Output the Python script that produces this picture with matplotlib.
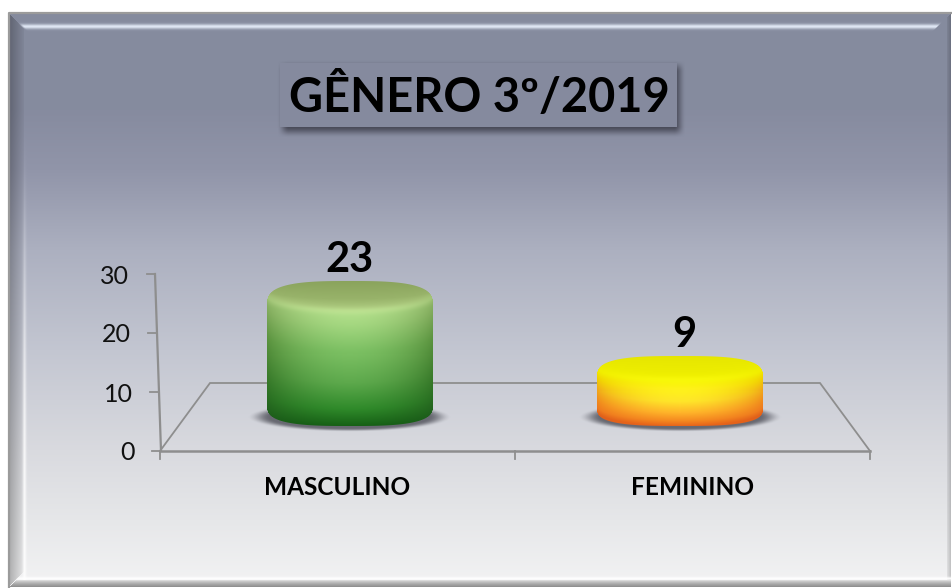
import numpy as np
import matplotlib
matplotlib.use("Agg")
import matplotlib.pyplot as plt
from matplotlib.colors import to_rgb
from matplotlib.patches import Rectangle
from matplotlib.transforms import ScaledTranslation

categories = ["MASCULINO", "FEMININO"]
values = [23, 9]
y_ticks = [0, 10, 20, 30]
title = "GÊNERO 3º/2019"

W, H = 952, 588
plt.rcParams['font.family'] = ['Lato', 'DejaVu Sans']
fig = plt.figure(figsize=(W / 100, H / 100), dpi=100, facecolor="white")


def px_axes(x0, y0, x1, y1, **kw):
    """Axes placed by pixel box, y measured from the top of the image."""
    return fig.add_axes([x0 / W, 1 - y1 / H, (x1 - x0) / W, (y1 - y0) / H], **kw)


def ramp(pos, stops, cols):
    arr = np.array([to_rgb(c) for c in cols])
    return np.stack([np.interp(pos, stops, arr[:, i]) for i in range(3)], axis=-1)


def smooth(e0, e1, x):
    t = np.clip((x - e0) / (e1 - e0), 0, 1)
    return t * t * (3 - 2 * t)


def blend(base, colour, amount):
    return base * (1 - amount[..., None]) + np.array(to_rgb(colour)) * amount[..., None]


# ---------- background panel ----------
bg = px_axes(0, 0, W, H, zorder=0)
FX0, FY0, FX1, FY1 = 9, 13, 951, 587
yy, xx = np.mgrid[FY0:FY1, FX0:FX1] + 0.5
rx, ry, rr, rb = xx - FX0, yy - FY0, FX1 - xx, FY1 - yy
grad = ramp(yy, [13, 110, 170, 250, 350, 450, 520, 587],
            ["#858b9e", "#868b9f", "#9195a9", "#acb0c0", "#c3c6d1", "#d9dadf", "#e6e7e9", "#f3f3f4"])
# left bevel: darker band bounded by the corner diagonals
left = (rx < 15) & (rx < ry) & (rx < rb)
shade = 0.72 + 0.24 * np.clip(rx / 15, 0, 1)
grad[left] = grad[left] * shade[left][..., None]
# right bevel
right = (rr < 4) & (rr < ry) & (rr < rb)
shade_r = 0.80 + 0.14 * np.clip(rr / 4, 0, 1)
grad[right] = grad[right] * shade_r[right][..., None]
# inner white edge along the left side, growing stronger downwards
vhl = np.exp(-((rx - 15.5) / 1.8) ** 2) * smooth(120, 500, yy) * (rb > 7) * 0.75
grad = blend(grad, "#ffffff", vhl)
# top highlight
thl = np.exp(-((yy - 26.5) / 2.4) ** 2) * smooth(-2, 2, rx - ry) * smooth(-1, 1, rr - ry) * 0.9
grad = blend(grad, "#e8f0fd", thl)
# bottom band
bot = (rb < 7) & (rx > rb)
grad[bot] = ramp(yy[bot], [580, 584, 587], ["#d8d8d8", "#a8a8a8", "#8c8c8c"])
bhl = np.exp(-((yy - 578.5) / 1.6) ** 2) * smooth(-2, 2, rx - rb) * 0.9
grad = blend(grad, "#ffffff", bhl)
bg.imshow(grad, extent=[FX0, FX1, FY1, FY0], aspect="auto", interpolation="nearest", zorder=0)
bg.plot([FX0, FX0, FX1], [FY1, FY0, FY0], color="#9b9b9b", lw=1.6, zorder=1)

# title box with soft shadow
BX0, BY0, BX1, BY1 = 280, 63, 677, 127
sy, sx = np.mgrid[BY0 - 10:BY1 + 20, BX0 - 10:BX1 + 20] + 0.5
sa = (smooth(-6, 6, sx - (BX0 + 3)) * smooth(-6, 6, (BX1 + 3) - sx)
      * smooth(-6, 6, sy - (BY0 + 3)) * smooth(-6, 6, (BY1 + 5) - sy))
simg = np.zeros(sa.shape + (4,))
simg[..., :3] = to_rgb("#3c3d4a")
simg[..., 3] = sa * 0.85
bg.imshow(simg, extent=[BX0 - 10, BX1 + 20, BY1 + 20, BY0 - 10], aspect="auto",
          interpolation="nearest", zorder=2)
bg.add_patch(Rectangle((BX0, BY0), BX1 - BX0, BY1 - BY0, fc="#858a9e", ec="none", zorder=3))
bg.text(479, 97, title, fontsize=33.8, fontweight="bold", color="black",
        ha="center", va="center", zorder=4)

# floor
line = "#8e8e8e"
bg.plot([160, 210, 820, 870], [451, 383, 383, 451], color=line, lw=1.3, zorder=5,
        solid_joinstyle="miter")
bg.plot([160, 870], [451, 451], color=line, lw=1.8, zorder=5)
bg.set_xlim(0, W)
bg.set_ylim(H, 0)
bg.axis("off")

# ---------- value axes (ticks, labels) ----------
AX0, AX1, AY30, AY0 = 160, 870, 274, 451
ax = px_axes(AX0, AY30, AX1, AY0, zorder=2)
ax.patch.set_alpha(0)
ax.set_xlim(-0.5, 1.5)
ax.set_ylim(0, 30)
for s in ax.spines.values():
    s.set_visible(False)
ax.set_yticks(y_ticks)
ax.set_xticks(range(len(categories)))
ax.set_xticklabels(categories, fontsize=17.6, fontweight="bold", color="black")
ax.tick_params(axis="y", length=0, pad=18.7, labelsize=18, labelcolor="#111111")
ax.tick_params(axis="x", length=0, pad=18.2)

TOP = max(y_ticks)
to_x = lambda px: (px - AX0) / (AX1 - AX0) * 2 - 0.5
lean = lambda v: AX0 + 1 - 6 * v / TOP

for v, lab in zip(y_ticks, ax.get_yticklabels()):
    shift = (lean(v) - AX0) / 100
    lab.set_transform(lab.get_transform() + ScaledTranslation(shift, 0, fig.dpi_scale_trans))

# slanted y axis with its tick marks, following the value scale
ax.plot([to_x(lean(0)), to_x(lean(TOP))], [0, TOP], color=line, lw=1.6, clip_on=False)
for v in y_ticks:
    ax.plot([to_x(lean(v) - 8.5), to_x(lean(v))], [v, v], color=line, lw=1.3, clip_on=False)
for frac in (0, 0.5, 1):
    xt = -0.5 + 2 * frac
    ax.plot([xt, xt], [0, -1.3], color=line, lw=1.3, clip_on=False)

# ---------- cylinders: own projected scale ----------
# category 0 at px 349.5, category 1 at px 680; value v top at px 405 - 5.36 v
XS, YS = 330.5, 5.36
bx = px_axes(0, 0, W, H, zorder=3)
bx.patch.set_alpha(0)
HALF = 0.25
BASE = -21 / YS

styles = [
    dict(b=15, sil_top=24, sil_bot=21,
         face=["#8aa35c", "#98b36a", "#b2d084"],
         rim="#c2e696",
         ts=[0, .12, .35, .62, .85, 1],
         center=["#b4e08c", "#a4d780", "#7cc063", "#5da94c", "#2f8a2a", "#166015"],
         edge=["#8fb567", "#7fa95a", "#5b933f", "#3f7f2e", "#2a6f22", "#1f5f1c"],
         shadow="#5c5d66"),
    dict(b=12, sil_top=21, sil_bot=18,
         face=["#e6e600", "#ecec00", "#f2f200"],
         rim="#fbfb10",
         ts=[0, .2, .45, .7, .88, 1],
         center=["#f7f500", "#fff21a", "#ffe62a", "#ffb52a", "#f58a20", "#e8641a"],
         edge=["#f0e800", "#f0d000", "#f0a818", "#f08a1c", "#ee7a1e", "#e0601a"],
         shadow="#5c5d66"),
]

for i, (v, st) in enumerate(zip(values, styles)):
    # shadow on the floor, centred on the cylinder's base
    sw, sh = 0.30, 14.5 / YS
    scy = BASE + 8.5 / YS
    nx, ny = int(2 * sw * XS) + 8, int(2 * sh * YS) + 8
    u = np.linspace(-1.03, 1.03, nx)[None, :]
    w = np.linspace(1.3, -1.3, ny)[:, None]
    r = np.sqrt(u ** 2 + w ** 2)
    sim = np.zeros((ny, nx, 4))
    sim[..., :3] = to_rgb(st["shadow"])
    sim[..., 3] = (1 - smooth(0.8, 1.03, r)) * 0.9
    bx.imshow(sim, extent=[i - sw * 1.03, i + sw * 1.03, scy - sh * 1.3, scy + sh * 1.3],
              aspect="auto", interpolation="bilinear", zorder=1)

    # body shading on a pixel grid covering the bar from base to value
    npx = int(2 * HALF * XS)
    npy = int(round((v - BASE) * YS))
    u = (np.arange(npx) + 0.5) / npx * 2 - 1
    U, Yp = np.meshgrid(u, np.arange(npy) + 0.5)
    b = st["b"]
    bb = 15
    circ = np.sqrt(np.clip(1 - U ** 2, 0, 1))
    rim = b + b * circ
    front = np.clip((Yp - rim) / (npy - bb + bb * circ - rim), 0, 1)
    s = np.clip(1 - np.abs(U) ** 1.9, 0, 1) ** 0.9
    c_col = ramp(front, st["ts"], st["center"])
    e_col = ramp(front, st["ts"], st["edge"])
    side = e_col * (1 - s[..., None]) + c_col * s[..., None]
    fpos = np.clip(Yp / (b + b * circ), 0, 1)
    face = ramp(fpos, [0, .6, 1], st["face"])
    spread = 3 + 7 * (1 - circ)
    mix = smooth(-spread, spread, Yp - rim)[..., None]
    img = face * (1 - mix) + side * mix
    glow = np.exp(-((Yp - rim) / 3.5) ** 2) * circ ** 2.5 * 0.55
    img = blend(img, st["rim"], glow)
    # silhouette with rounded shoulders
    p = 3.0
    sq = (1 - np.abs(U) ** p) ** (1 / p)
    top = st["sil_top"] * (1 - sq)
    bot = npy - st["sil_bot"] * (1 - sq)
    alpha = np.clip(Yp - top + 0.5, 0, 1) * np.clip(bot - Yp + 0.5, 0, 1)
    bar_img = np.dstack([img, alpha])
    bx.imshow(bar_img, extent=[i - HALF, i + HALF, BASE, v], aspect="auto",
              interpolation="nearest", zorder=2)
    bx.annotate(str(v), xy=(i, v), xytext=(0 if i == 0 else 4, 22),
                textcoords="offset pixels", ha="center", va="center",
                fontsize=30, fontweight="bold", color="black", zorder=3)

bx.set_xlim((0 - 349.5) / XS, (W - 349.5) / XS)
bx.set_ylim((405 - H) / YS, 405 / YS)
bx.axis("off")

fig.savefig("out.png", dpi=100, facecolor="white")
